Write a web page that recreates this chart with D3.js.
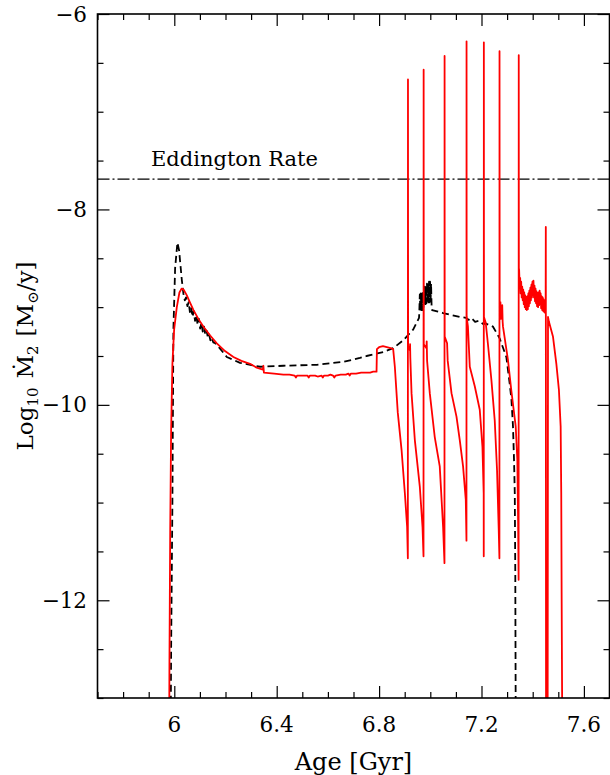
<!DOCTYPE html>
<html><head><meta charset="utf-8">
<script src="https://cdn.jsdelivr.net/npm/d3@7"></script>
<style>
body{margin:0;background:#fff}
svg{display:block}
text{font-family:"DejaVu Serif",serif;fill:#000}
</style>
</head><body>
<svg id="chart" width="610" height="775"></svg>
<script>
// ---------------- data ----------------
const xDomain = [5.7, 7.7];
const yDomain = [-13, -6];
const xTickLabels = [6, 6.4, 6.8, 7.2, 7.6];
const yTickLabels = [-6, -8, -10, -12];
const eddingtonRate = -7.69;
const eddingtonLabel = "Eddington Rate";

// black dashed track [age Gyr, log10 Mdot]
const dashedTrack = [
 [5.9856,-13.5],[5.9876,-12.5],[5.9926,-11.0],[5.9965,-9.23],[6.0032,-8.60],[6.0121,-8.34],[6.0188,-8.42],[6.0293,-8.72],[6.0355,-8.86],
 [6.041,-8.93],[6.046,-8.90],[6.051,-8.99],[6.056,-8.95],[6.061,-9.05],[6.066,-9.00],[6.071,-9.10],[6.076,-9.04],[6.081,-9.14],[6.086,-9.08],
 [6.091,-9.18],[6.096,-9.12],[6.101,-9.22],[6.106,-9.16],[6.111,-9.25],[6.116,-9.20],[6.121,-9.28],[6.126,-9.24],[6.131,-9.31],[6.136,-9.28],
 [6.141,-9.34],[6.146,-9.31],[6.152,-9.36],[6.160,-9.37],[6.168,-9.39],
 [6.205,-9.51],[6.257,-9.57],[6.335,-9.61],[6.426,-9.60],[6.556,-9.59],[6.660,-9.56],[6.725,-9.52],[6.751,-9.50],[6.816,-9.46],[6.855,-9.42],
 [6.894,-9.34],[6.933,-9.23],[6.956,-9.11],
 [6.957,-9.05],[6.959,-8.87],[6.961,-9.04],[6.963,-8.86],[6.965,-9.03],[6.967,-8.85],[6.969,-9.03],[6.971,-8.84],[6.973,-9.00],[6.975,-8.80],
 [6.977,-8.98],[6.979,-8.79],[6.981,-8.97],[6.983,-8.78],[6.985,-8.96],[6.987,-8.76],[6.989,-8.96],[6.991,-8.75],[6.993,-8.95],[6.995,-8.74],
 [6.997,-8.95],[6.999,-8.74],[7.001,-8.95],[7.003,-8.76],[7.005,-8.98],[7.007,-9.03],
 [7.050,-9.06],[7.115,-9.10],[7.140,-9.11],[7.150,-9.13],[7.160,-9.11],[7.175,-9.15],[7.190,-9.14],[7.205,-9.17],[7.219,-9.17],[7.245,-9.20],
 [7.271,-9.32],[7.297,-9.51],[7.310,-9.78],[7.317,-9.95],[7.323,-10.22],[7.327,-10.56],[7.330,-10.91],[7.332,-11.73],[7.334,-13.5]
];

// red solid track [age Gyr, log10 Mdot]
const solidTrack = [
 [5.9797,-13.5],[5.981,-12.65],[5.984,-11.28],[5.9876,-10.26],[5.9926,-9.58],[5.9993,-9.23],[6.0098,-9.00],[6.020,-8.85],[6.029,-8.81],[6.036,-8.82],
 [6.049,-8.88],[6.061,-8.95],[6.075,-9.03],[6.094,-9.12],[6.114,-9.20],[6.140,-9.29],[6.166,-9.37],[6.198,-9.45],[6.231,-9.51],[6.262,-9.55],
 [6.296,-9.58],[6.322,-9.62],[6.346,-9.64],[6.348,-9.60],[6.350,-9.67],[6.390,-9.68],[6.426,-9.69],
 [6.45,-9.69],[6.47,-9.70],[6.475,-9.72],[6.48,-9.70],[6.50,-9.70],[6.52,-9.70],[6.525,-9.72],[6.53,-9.70],[6.55,-9.70],[6.56,-9.71],
 [6.575,-9.70],[6.58,-9.72],[6.585,-9.70],[6.60,-9.70],[6.61,-9.69],[6.62,-9.70],[6.625,-9.72],[6.63,-9.70],[6.65,-9.69],[6.67,-9.69],
 [6.68,-9.68],[6.685,-9.70],[6.69,-9.68],[6.71,-9.68],[6.73,-9.67],[6.75,-9.67],[6.765,-9.67],[6.777,-9.66],[6.790,-9.66],
 [6.7915,-9.43],[6.800,-9.41],[6.815,-9.40],[6.830,-9.41],[6.845,-9.42],[6.855,-9.43],
 [6.8615,-9.61],[6.873,-10.08],[6.8877,-10.46],[6.9005,-10.90],[6.9095,-11.25],[6.9123,-11.57],
 [6.9128,-6.67],[6.9133,-9.40],[6.920,-9.44],[6.921,-9.38],[6.922,-9.52],[6.9267,-9.88],[6.9396,-10.36],[6.9591,-10.84],[6.9696,-11.25],[6.9735,-11.55],
 [6.9740,-6.57],[6.9745,-9.38],[6.985,-9.42],[6.986,-9.35],[6.9875,-9.55],[6.998,-9.88],[7.0174,-10.33],[7.0369,-10.63],[7.050,-11.25],[7.0554,-11.62],
 [7.0558,-6.43],[7.0562,-9.30],[7.0656,-9.37],[7.068,-9.55],[7.0828,-9.88],[7.1023,-10.12],[7.1151,-10.36],[7.128,-10.63],[7.1386,-10.97],[7.1413,-11.39],
 [7.1416,-6.28],[7.1420,-9.10],[7.147,-9.20],[7.1542,-9.61],[7.1737,-9.81],[7.1932,-10.05],[7.2037,-10.43],[7.2086,-10.91],[7.2088,-11.55],
 [7.2092,-6.29],[7.2096,-9.10],[7.2165,-9.16],[7.2256,-9.39],[7.2388,-9.75],[7.2517,-10.16],[7.2607,-10.67],[7.2673,-11.28],[7.2700,-11.57],
 [7.2704,-6.38],[7.2710,-9.05],[7.274,-8.95],[7.2755,-9.12],[7.277,-9.02],[7.279,-9.10],[7.281,-8.98],[7.2826,-9.15],[7.2840,-9.20],
 [7.3033,-9.54],[7.3163,-9.85],[7.3336,-10.22],[7.3400,-10.56],[7.3430,-11.20],[7.3450,-11.79],
 [7.3455,-6.42],[7.3460,-8.60],
 [7.347,-8.62],[7.349,-8.78],[7.351,-8.70],[7.353,-8.86],[7.355,-8.74],[7.357,-8.90],[7.359,-8.79],[7.361,-8.93],[7.363,-8.82],[7.365,-8.97],
 [7.367,-8.85],[7.369,-9.00],[7.371,-8.88],[7.373,-9.02],[7.375,-8.90],[7.377,-9.03],[7.379,-8.89],[7.381,-9.02],[7.383,-8.86],[7.385,-8.99],
 [7.387,-8.83],[7.389,-8.96],[7.391,-8.80],[7.393,-8.93],[7.395,-8.77],[7.397,-8.90],[7.399,-8.74],[7.401,-8.88],[7.403,-8.73],[7.405,-8.90],
 [7.407,-8.78],[7.409,-8.94],[7.411,-8.81],[7.413,-8.96],[7.415,-8.84],[7.417,-8.99],[7.419,-8.86],[7.421,-9.00],[7.423,-8.85],[7.425,-8.98],
 [7.427,-8.83],[7.429,-8.97],[7.431,-8.86],[7.433,-9.01],[7.435,-8.89],[7.437,-9.03],[7.439,-8.90],[7.441,-9.04],[7.443,-8.92],[7.445,-9.05],
 [7.447,-8.94],[7.449,-9.06],[7.4505,-9.06],
 [7.4512,-8.18],[7.4522,-13.5],[7.4583,-13.5],[7.4598,-9.10],[7.4635,-9.15],[7.4791,-9.30],[7.4924,-9.58],[7.5025,-9.85],[7.5092,-10.22],
 [7.5115,-10.90],[7.5130,-11.93],[7.5158,-13.5]
];

// ---------------- layout ----------------
const svg = d3.select("#chart");
const L = 97.5, R = 609.5, T = 14, B = 698;
const x = d3.scaleLinear().domain(xDomain).range([L, R]);
const y = d3.scaleLinear().domain(yDomain).range([B, T]);

const xMinor = d3.range(57, 78).map(d => d / 10).filter(v => !xTickLabels.some(m => Math.abs(m - v) < 1e-6));
const yMinor = d3.range(-26, -11).map(d => d / 2).filter(v => !yTickLabels.includes(v));

svg.append("defs").append("clipPath").attr("id", "clip")
  .append("rect").attr("x", L).attr("y", T).attr("width", R - L).attr("height", B - T);

function ticks(axisFn, pos, vals, size) {
  const g = svg.append("g").attr("transform", pos)
    .call(axisFn.tickValues(vals).tickSize(-size).tickFormat(""));
  g.select(".domain").remove();
  g.selectAll("line").attr("stroke", "#000").attr("stroke-width", 1.2);
}
ticks(d3.axisBottom(x), `translate(0,${B})`, xTickLabels, 12);
ticks(d3.axisBottom(x), `translate(0,${B})`, xMinor, 6);
ticks(d3.axisTop(x), `translate(0,${T})`, xTickLabels, 12);
ticks(d3.axisTop(x), `translate(0,${T})`, xMinor, 6);
ticks(d3.axisLeft(y), `translate(${L},0)`, yTickLabels, 12);
ticks(d3.axisLeft(y), `translate(${L},0)`, yMinor, 6);
ticks(d3.axisRight(y), `translate(${R},0)`, yTickLabels, 12);
ticks(d3.axisRight(y), `translate(${R},0)`, yMinor, 6);

// Eddington line
svg.append("line").attr("x1", L).attr("x2", R)
  .attr("y1", y(eddingtonRate)).attr("y2", y(eddingtonRate))
  .attr("stroke", "#000").attr("stroke-width", 1.4).attr("stroke-dasharray", "12,3,2,3");
svg.append("text").attr("x", 151).attr("y", y(eddingtonRate) - 13.5)
  .attr("font-size", 21).text(eddingtonLabel);

const line = d3.line().x(d => x(d[0])).y(d => y(d[1]));
const plot = svg.append("g").attr("clip-path", "url(#clip)");
plot.append("path").datum(dashedTrack).attr("d", line)
  .attr("fill", "none").attr("stroke", "#000").attr("stroke-width", 1.8)
  .attr("stroke-dasharray", "7,4").attr("stroke-linejoin", "round");
plot.append("path").datum(solidTrack).attr("d", line)
  .attr("fill", "none").attr("stroke", "#ff0000").attr("stroke-width", 1.8)
  .attr("stroke-linejoin", "round");

// frame
svg.append("rect").attr("x", L).attr("y", T).attr("width", R - L).attr("height", B - T)
  .attr("fill", "none").attr("stroke", "#000").attr("stroke-width", 1.6);

// tick labels
const fmt = v => (v < 0 ? "\u2212" : "") + Math.abs(v);
svg.selectAll(".xl").data(xTickLabels).enter().append("text")
  .attr("x", d => x(d)).attr("y", 732).attr("text-anchor", "middle")
  .attr("font-size", 21.5).text(d => fmt(d));
svg.selectAll(".yl").data(yTickLabels).enter().append("text")
  .attr("x", 87).attr("y", d => y(d) + 7.5).attr("text-anchor", "end")
  .attr("font-size", 21.5).text(d => fmt(d));

// axis titles
svg.append("text").attr("x", (L + R) / 2).attr("y", 770).attr("text-anchor", "middle")
  .attr("font-size", 24).text("Age [Gyr]");
const yt = svg.append("text").attr("transform", `translate(33,${(T + B) / 2}) rotate(-90)`)
  .attr("text-anchor", "middle").attr("font-size", 23);
yt.append("tspan").text("Log");
yt.append("tspan").attr("font-size", 15).attr("dy", 5).text("10");
yt.append("tspan").attr("dy", -5).attr("dx", 9).text("\u1E40");
yt.append("tspan").attr("font-size", 15).attr("dy", 5).text("2");
yt.append("tspan").attr("dy", -5).attr("dx", 9).text("[M");
yt.append("tspan").attr("font-size", 15).attr("dy", 5).text("\u2299");
yt.append("tspan").attr("dy", -5).text("/y]");
</script>
</body></html>
